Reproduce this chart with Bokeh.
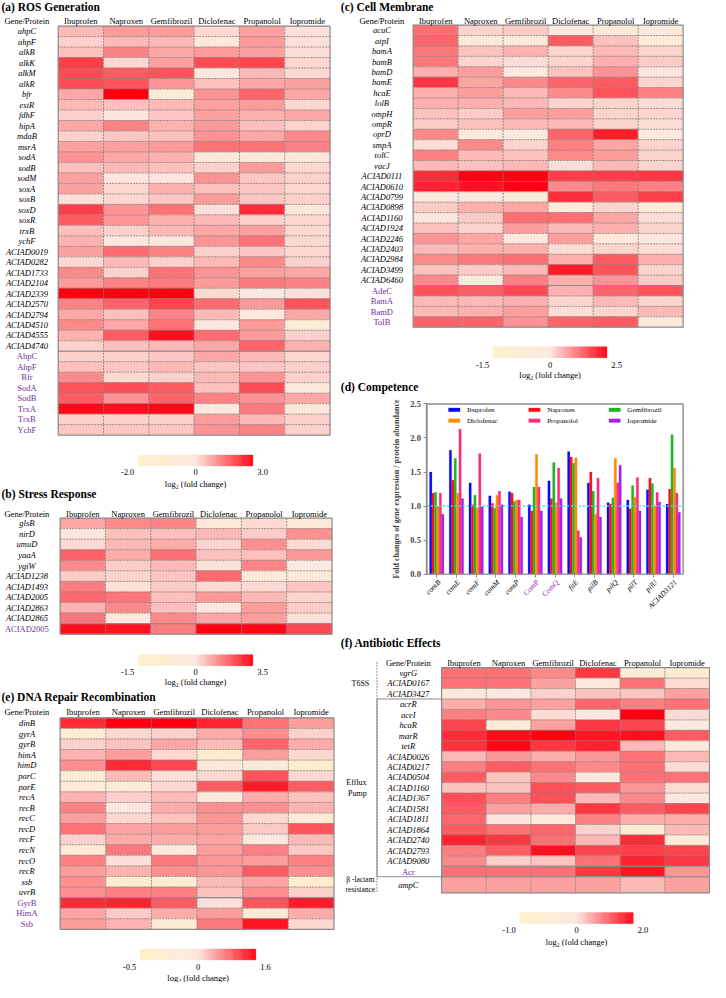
import numpy as np
from bokeh.plotting import figure
from bokeh.models import (Range1d, LinearAxis, FixedTicker, ColumnDataSource,
                          LinearColorMapper, PrintfTickFormatter)
from bokeh.core.properties import value
from bokeh.embed import file_html
from bokeh.resources import INLINE

# ---------------------------------------------------------------- data
drugs = ["Ibuprofen", "Naproxen", "Gemfibrozil", "Diclofenac", "Propanolol", "Iopromide"]

# (a) ROS generation, log2 fold change, columns = drugs
ros_genes = ["ahpC", "ahpF", "alkB", "alkK", "alkM", "alkR", "bfr", "estR", "fdhF", "hipA",
             "mdaB", "msrA", "sodA", "sodB", "sodM", "soxA", "soxB", "soxD", "soxR", "trxB",
             "ychF", "ACIAD0019", "ACIAD0282", "ACIAD1733", "ACIAD2104", "ACIAD2339",
             "ACIAD2570", "ACIAD2794", "ACIAD4510", "ACIAD4555", "ACIAD4740"]
ros_proteins = ["AhpC", "AhpF", "Bfr", "SodA", "SodB", "TrxA", "TrxB", "YchF"]
ros_values = [
    [0.6, 1.0, 1.0, 0.2, 0.9, 0.1], [0.3, 0.6, 0.6, -0.2, 1.0, 0.1],
    [0.5, 1.3, 0.8, 1.0, 0.9, 0.1], [2.2, 0.2, 0.9, 2.0, 2.1, 0.2],
    [2.0, 1.8, 1.9, -0.1, 0.6, 0.2], [2.0, 1.9, 1.1, 0.5, 0.8, 0.9],
    [0.8, 3.0, -0.8, 1.1, 1.7, 0.8], [0.6, 0.5, 0.6, 0.9, 1.0, 0.2],
    [0.3, 0.0, 0.4, 0.9, 0.7, 0.8], [0.8, 1.3, 0.7, 1.0, 0.5, 0.3],
    [0.3, 0.4, 0.5, 1.1, 0.8, 1.2], [0.9, 0.9, 1.0, 1.5, 1.5, 1.3],
    [1.1, 0.8, 0.7, -0.3, -0.3, -0.3], [0.5, 0.6, 0.5, 0.3, 1.0, 0.2],
    [0.9, 0.0, 0.0, 1.1, 0.4, 0.3], [0.9, 0.2, 0.7, 0.5, 0.4, 0.2],
    [0.1, 0.2, 0.4, 1.0, 0.4, 0.3], [2.2, 1.1, 1.5, 0.1, 2.4, -0.3],
    [1.8, 1.1, 0.7, 0.6, 0.3, 0.2], [0.5, 0.3, 0.6, 0.8, 0.9, 0.2],
    [0.7, 0.0, 0.0, 1.1, 1.5, 0.2], [0.9, 1.6, 1.3, 0.3, 0.4, 0.2],
    [0.2, 0.6, 0.3, 0.6, 1.2, 0.3], [1.2, 0.3, 1.5, 1.1, 0.9, 0.8],
    [1.0, 1.3, 1.4, 1.0, 1.4, 1.3], [3.0, 3.0, 3.0, 0.2, -0.1, 0.1],
    [1.3, 1.7, 2.1, 1.6, 1.0, 1.9], [0.8, 0.5, 1.3, 0.6, -0.2, 0.8],
    [1.2, 0.8, 1.5, 0.0, 1.0, -0.9], [0.7, 1.8, 2.8, 1.6, 1.0, 0.3],
    [0.3, 0.5, 0.6, 0.8, 1.7, 0.7],
    [0.3, 0.3, 0.4, 0.8, 0.6, 0.2], [0.5, 0.4, 0.6, 0.4, 0.4, 0.3],
    [1.2, 0.2, 0.3, 0.6, 1.1, 0.3], [1.9, 2.0, 1.8, 0.5, 2.0, -0.4],
    [1.8, 1.1, 1.7, 1.3, 1.1, 0.8], [2.9, 2.8, 2.9, -0.2, 1.4, -0.3],
    [0.3, 0.3, 0.3, 1.0, 0.6, 0.3], [0.4, 0.4, 0.4, 1.1, 1.3, 0.3]]
ros_scale = (-2.0, 3.0)

# (b) stress response
stress_genes = ["glsB", "nirD", "umuD", "yaaA", "ygiW", "ACIAD1238", "ACIAD1493",
                "ACIAD2005", "ACIAD2863", "ACIAD2865"]
stress_proteins = ["ACIAD2005"]
stress_values = [
    [1.0, 1.4, 1.5, -0.4, 0.2, -0.4], [0.0, 0.6, 0.6, 0.7, 0.4, 1.3],
    [0.2, 0.7, 0.9, 0.3, 1.3, 0.2], [2.0, 0.9, 1.8, 0.6, 0.6, 1.2],
    [1.4, 0.4, 0.7, 0.1, 1.5, -0.2], [0.4, 0.3, 0.5, 1.9, -0.3, -0.4],
    [1.6, 0.1, 0.4, 0.2, 0.2, 0.5], [1.9, 1.7, 0.6, 1.2, 0.7, 0.3],
    [0.8, 1.4, 0.6, 0.0, 1.1, 0.4], [1.7, 0.0, 1.4, 1.0, 1.1, 0.1],
    [3.3, 3.2, 1.6, 3.5, 3.4, 2.4]]
stress_scale = (-1.5, 3.5)

# (c) cell membrane
memb_genes = ["acuC", "atpI", "bamA", "bamB", "bamD", "bamE", "hcaE", "lolB", "ompH", "ompR",
              "oprD", "smpA", "tolC", "vacJ", "ACIAD0111", "ACIAD0610", "ACIAD0799",
              "ACIAD0898", "ACIAD1160", "ACIAD1924", "ACIAD2246", "ACIAD2403", "ACIAD2984",
              "ACIAD3499", "ACIAD6460"]
memb_proteins = ["AdeC", "BamA", "BamD", "TolB"]
memb_values = [
    [1.3, 0.2, 0.3, -0.2, -0.4, -0.1], [1.4, -0.3, -0.3, 1.5, 0.4, -0.5],
    [1.2, 0.4, 0.6, 0.2, 0.5, 0.2], [1.2, 0.2, 0.1, 0.2, 0.6, 0.3],
    [0.6, 0.8, -0.1, 0.4, 0.9, 0.0], [1.9, 0.7, 1.0, 1.4, 1.5, 0.2],
    [0.6, 0.8, 0.5, 1.0, 1.6, 1.1], [0.6, 0.6, 0.5, 0.2, 0.2, 0.1],
    [0.4, 0.3, 0.8, 0.8, 0.2, 0.2], [0.3, 0.4, 0.5, 0.5, 0.2, 0.1],
    [1.0, -0.4, -0.1, 1.4, 2.2, -0.2], [0.1, 1.0, 0.2, 1.1, 0.7, 0.2],
    [1.1, 0.5, 0.4, 1.0, 0.8, 0.2], [0.5, 0.4, 0.5, 0.1, 0.5, 0.2],
    [2.0, 2.5, 2.5, 1.8, 1.8, 1.9], [2.1, 2.3, 2.5, 1.0, 1.2, 1.1],
    [-0.2, -0.1, -0.4, 2.0, 1.5, 1.8], [0.3, 0.6, 0.7, -0.5, 0.2, -0.5],
    [0.0, 0.3, 1.3, 1.3, 0.7, 0.1], [0.4, 0.2, 0.8, 0.5, 0.6, 0.2],
    [0.9, 0.7, -0.1, 0.8, -0.4, 0.0], [0.5, 0.6, 0.6, 0.1, 0.2, 0.1],
    [1.0, 1.2, 1.3, 0.6, 1.5, 0.6], [0.4, 0.3, 0.5, 2.2, 1.6, 0.2],
    [1.0, -0.2, 1.1, 0.6, 0.9, 0.3],
    [1.6, 1.5, 1.7, 0.6, 1.4, 1.6], [0.5, 0.5, 0.6, 0.2, 0.5, 0.2],
    [0.5, 0.6, 0.8, 0.1, 0.2, 0.5], [1.4, 1.4, 0.9, 1.4, 1.5, -0.2]]
memb_scale = (-1.5, 2.5)

# (d) competence: fold change (bars)
comp_genes = ["comB", "comE", "comF", "comM", "comP", "ComP", "ComQ", "fitE", "pilB",
              "pilQ", "pilT", "pilU", "ACIAD3121"]
comp_proteins = ["ComP", "ComQ"]
comp_ibuprofen = [1.50, 1.82, 1.34, 1.15, 1.21, 1.02, 1.37, 1.80, 1.34, 1.05, 1.09, 1.24, 1.03]
comp_naproxen = [1.19, 1.38, 1.02, 1.04, 1.19, 0.93, 1.11, 1.72, 1.50, 1.03, 0.96, 1.41, 1.25]
comp_gemfibrozil = [1.20, 1.70, 1.16, 0.97, 1.07, 1.28, 1.64, 1.63, 1.22, 1.12, 1.30, 1.33, 2.05]
comp_diclofenac = [1.00, 1.19, 0.97, 1.16, 1.09, 1.76, 1.05, 1.71, 0.88, 1.70, 1.13, 1.00, 1.56]
comp_propanolol = [1.19, 2.13, 1.77, 1.22, 1.09, 1.28, 1.56, 0.64, 1.41, 1.34, 1.42, 1.20, 1.19]
comp_iopromide = [0.88, 1.11, 0.99, 1.02, 0.84, 0.93, 1.11, 0.54, 0.84, 1.60, 0.93, 1.06, 0.91]
comp_ticks = [0.0, 0.5, 1.0, 1.5, 2.0, 2.5]

# (e) DNA repair recombination
dna_genes = ["dinB", "gyrA", "gyrB", "himA", "himD", "parC", "parE", "recA", "recB", "recC",
             "recD", "recF", "recN", "recO", "recR", "ssb", "uvrB"]
dna_proteins = ["GyrB", "HimA", "Ssb"]
dna_values = [
    [1.3, 1.6, 1.6, 1.35, 0.8, 0.5], [-0.25, 0.1, 0.15, 0.4, 0.6, 0.15],
    [0.15, 0.25, 0.45, 0.3, 0.9, 0.4], [0.35, 0.5, 0.1, -0.35, 0.5, 0.1],
    [0.6, 1.3, 1.1, -0.1, -0.1, -0.35], [-0.2, 0.3, 0.05, 0.1, 1.0, 0.1],
    [-0.2, -0.2, 0.1, 0.95, 1.4, 0.95], [0.35, 0.15, 0.3, -0.05, 0.4, 0.25],
    [0.7, 0.0, 0.4, 0.6, 0.6, 0.35], [0.5, 0.1, 0.25, 0.55, 0.1, -0.2],
    [0.8, 0.45, 0.5, 0.5, 0.2, 1.0], [0.15, 0.4, 0.4, 0.45, -0.05, 0.3],
    [-0.2, 0.75, -0.1, 0.5, 0.7, 0.2], [0.7, 0.05, 0.75, 0.55, 0.5, 0.7],
    [0.5, 0.35, 0.6, 0.55, 0.95, 0.6], [0.6, -0.3, -0.2, 0.3, 0.45, -0.35],
    [0.6, 0.7, 0.7, 0.25, 0.6, 0.15],
    [1.3, 1.35, 0.95, 0.05, 1.0, 1.4], [0.45, 0.2, 0.4, 0.5, -0.2, 0.4],
    [0.5, 0.35, -0.2, 0.75, 1.45, 0.1]]
dna_scale = (-0.5, 1.6)

# (f) antibiotic effects
abx_genes = ["vgrG", "ACIAD0167", "ACIAD3427", "acrR", "aceI", "hcaR", "marR", "tetR",
             "ACIAD0026", "ACIAD0217", "ACIAD0504", "ACIAD1160", "ACIAD1367", "ACIAD1581",
             "ACIAD1811", "ACIAD1864", "ACIAD2740", "ACIAD2793", "ACIAD9080"]
abx_proteins = ["Acr"]
abx_extra = ["ampC"]
abx_groups = ["T6SS", "Efflux\nPump", "\u03b2 -lactam\nresistance"]
abx_values = [
    [1.0, 1.0, 0.8, 1.5, -0.5, -0.5], [1.0, 1.0, 0.6, -0.1, 1.0, 0.1],
    [-0.2, -0.1, 0.2, 0.3, 0.3, 0.6], [0.5, 0.7, 0.6, 1.1, 0.9, 1.0],
    [0.9, 0.8, 0.1, 0.0, 2.0, 0.1], [1.4, -0.4, 0.6, 1.5, 1.4, -0.1],
    [1.6, 1.9, 2.0, 1.8, 1.85, 1.2], [1.55, 1.95, 1.5, 1.7, 0.4, -0.2],
    [0.4, 0.7, 0.5, 0.7, 1.0, 0.4], [0.9, 1.2, 1.0, 0.8, 1.0, 0.1],
    [1.2, 0.3, 0.8, 0.0, 1.0, 1.0], [0.3, 0.3, 1.3, 1.2, 0.7, 0.1],
    [1.3, 0.9, 1.3, 0.4, 0.8, -0.1], [1.2, 0.6, 0.5, 1.5, 1.2, 1.4],
    [1.1, 0.0, -0.2, 0.9, 0.5, 0.5], [1.2, 1.0, 1.1, 0.2, -0.5, 0.4],
    [1.7, 1.5, 1.0, 0.4, 1.6, -0.3], [0.9, 1.2, 1.85, 1.4, 1.45, 1.4],
    [0.8, 0.2, 0.3, 1.0, 1.7, 1.5],
    [1.0, 1.0, 1.0, 1.5, 1.8, 0.7],
    [0.6, 0.6, 0.6, 0.6, 0.4, 0.6]]
abx_scale = (-1.0, 2.0)

# ---------------------------------------------------------------- style
REF_W, REF_H = 726, 998
FONT_NAME = "Liberation Serif"
FONT = value(FONT_NAME)
PURPLE = "#7030A0"
GRIDC = "#7d7d7d"
BORDER = "#8c8c8c"
BAR_COLORS = ["#0a0aff", "#ff1010", "#22b422", "#ff8a00", "#ff2a7f", "#a424ee"]

LOW, MID, HIGH = (255, 240, 198), (252, 231, 223), (255, 0, 16)


def _lerp(c0, c1, f):
    return tuple(int(round(a + (b - a) * f)) for a, b in zip(c0, c1))


PALETTE = []
for i in range(256):
    t = i / 255
    c = _lerp(LOW, MID, t / 0.5) if t < 0.5 else _lerp(MID, HIGH, (t - 0.5) / 0.5)
    PALETTE.append("#%02x%02x%02x" % c)
CMAP = LinearColorMapper(palette=PALETTE, low=0, high=1)
FILL = {"field": "t", "transform": CMAP}


def tnorm(v, lo, hi):
    if v < 0:
        return max(0.0, 0.5 * (v - lo) / (0 - lo))
    return min(1.0, 0.5 + 0.5 * v / hi)


p = figure(width=710, height=982, x_range=Range1d(0, REF_W), y_range=Range1d(REF_H, 0),
           x_axis_type=None, y_axis_type=None, toolbar_location=None,
           output_backend="svg", min_border=0, outline_line_color=None)
p.background_fill_color = "white"
p.border_fill_color = "white"


def txt(xs, ys, texts, size="8.5px", style="normal", color="black", align="center",
        baseline="middle", angle=0.0, xr="default", yr="default"):
    p.text(x=list(xs), y=list(ys), text=list(texts), text_font=FONT,
           text_font_size=size, text_font_style=style, text_color=color,
           text_align=align, text_baseline=baseline, angle=angle,
           x_range_name=xr, y_range_name=yr)


def colorbar(x0, x1, y0, y1, lo_lab, hi_lab, lab_y, title_y):
    n = 128
    e = np.linspace(x0, x1, n + 1)
    src = ColumnDataSource(dict(l=e[:-1], r=e[1:], t=(np.arange(n) + 0.5) / n))
    p.quad(left="l", right="r", top=y0, bottom=y1, source=src,
           fill_color=FILL, line_color=FILL, line_width=0.4)
    txt([x0 - 11, (x0 + x1) / 2, x1 + 10], [lab_y] * 3, [lo_lab, "0", hi_lab])
    txt([(x0 + x1) / 2], [title_y], ["log\u2082 (fold change)"])


def heatmap(key, genes, proteins, values, scale, box, label_x, header_y,
            title, title_xy, extra=(), extra_h=1.0, solid_rows=()):
    x0, x1, y0, y1 = box
    names = list(genes) + list(proteins) + list(extra)
    n = len(names)
    heights = [1.0] * (len(genes) + len(proteins)) + [extra_h] * len(extra)
    edges = np.concatenate([[0.0], np.cumsum(heights)])
    total = edges[-1]
    kx, ky = key + "x", key + "y"
    ux, uy = (x1 - x0) / 6.0, (y1 - y0) / total
    p.extra_x_ranges[kx] = Range1d(start=-x0 / ux, end=(REF_W - x0) / ux)
    p.extra_y_ranges[ky] = Range1d(start=(REF_H - y0) / uy, end=-y0 / uy)
    centers = (edges[:-1] + edges[1:]) / 2
    xs, ys, hs, ts = [], [], [], []
    lo, hi = scale
    for r in range(n):
        for c in range(6):
            xs.append(c + 0.5)
            ys.append(centers[r])
            hs.append(heights[r])
            ts.append(tnorm(values[r][c], lo, hi))
    src = ColumnDataSource(dict(x=xs, y=ys, h=hs, t=ts))
    p.rect(x="x", y="y", width=1, height="h", source=src, x_range_name=kx, y_range_name=ky,
           fill_color=FILL, line_color=FILL, line_width=0.4)
    # dashed cell borders
    p.segment(x0=[1, 2, 3, 4, 5], y0=[0] * 5, x1=[1, 2, 3, 4, 5], y1=[total] * 5,
              line_color=GRIDC, line_width=0.8, line_dash="2 1", x_range_name=kx, y_range_name=ky)
    inner = list(edges[1:-1])
    p.segment(x0=[0] * len(inner), y0=inner, x1=[6] * len(inner), y1=inner,
              line_color=GRIDC, line_width=0.8, line_dash="2 1", x_range_name=kx, y_range_name=ky)
    sol = [len(genes)] + list(solid_rows)
    if proteins and extra:
        sol.append(len(genes) + len(proteins))
    p.segment(x0=[0] * len(sol), y0=sol, x1=[6] * len(sol), y1=sol,
              line_color=BORDER, line_width=1.1, x_range_name=kx, y_range_name=ky)
    p.quad(left=[0], right=[6], top=[0], bottom=[total], fill_color=None,
           line_color=BORDER, line_width=1.2, x_range_name=kx, y_range_name=ky)
    # labels
    ng = len(genes)
    txt([label_x] * ng, centers[:ng], genes, style="italic", yr=ky)
    npr = len(proteins)
    if npr:
        txt([label_x] * npr, centers[ng:ng + npr], proteins, color=PURPLE, yr=ky)
    if extra:
        txt([label_x] * len(extra), centers[ng + npr:], extra, style="italic", yr=ky)
    txt([c + 0.5 for c in range(6)], [header_y] * 6, drugs, xr=kx)
    txt([label_x], [header_y], ["Gene/Protein"])
    txt([title_xy[0]], [title_xy[1]], [title], size="11.5px", style="bold", align="left")
    return kx, ky, edges


# ---------------------------------------------------------------- panels
heatmap("a", ros_genes, ros_proteins, ros_values, ros_scale, (59, 337, 26, 441.7),
        27, 21, "(a) ROS Generation", (1, 7))
colorbar(141, 258, 462, 473, "-2.0", "3.0", 479, 491)

heatmap("b", stress_genes, stress_proteins, stress_values, stress_scale, (61, 339, 526, 644),
        27, 522, "(b) Stress Response", (1, 502))
colorbar(141, 258, 665, 676, "-1.5", "3.5", 682, 693)

heatmap("e", dna_genes, dna_proteins, dna_values, dna_scale, (61, 341, 729, 944),
        27, 723, "(e) DNA Repair Recombination", (1, 708))
colorbar(143, 261, 964, 975, "-0.5", "1.6", 982, 993)

heatmap("c", memb_genes, memb_proteins, memb_values, memb_scale, (422, 698, 25, 332),
        390, 21, "(c) Cell Membrane", (348, 7))
colorbar(504, 620, 352, 363, "-1.5", "2.5", 370, 381)

fkx, fky, fedges = heatmap("f", abx_genes, abx_proteins, abx_values, abx_scale,
                           (451, 725, 678, 907), 417, 673, "(f) Antibiotic Effects",
                           (348, 653), extra=abx_extra, extra_h=1.55)
colorbar(531, 647, 927, 938, "-1.0", "2.0", 945, 957)
# group column of (f)
ftot = fedges[-1]
p.segment(x0=[385], y0=[-0.55], x1=[385], y1=[ftot], line_color=GRIDC, line_width=0.9,
          line_dash="2 1", y_range_name=fky)
p.quad(left=[385], right=[451], top=[3], bottom=[20], fill_color=None, line_color=BORDER,
       line_width=1.1, y_range_name=fky)
g_lines = [g.split("\n") for g in abx_groups]
txt([368], [1.5], [g_lines[0][0]], size="8px", yr=fky)
txt([364, 365], [11.0, 12.0], g_lines[1], size="8px", yr=fky)
txt([368, 368], [20.3, 21.25], g_lines[2], size="7.5px", yr=fky)

# ---------------------------------------------------------------- (d) bars
txt([348], [393], ["(d) Competence"], size="11.5px", style="bold", align="left")
DX0, DX1, DY0, DY1 = 436, 698, 583, 410
ng = len(comp_genes)
ux = (DX1 - DX0) / ng
uy = (DY0 - DY1) / comp_ticks[-1]
p.extra_x_ranges["dx"] = Range1d(start=-DX0 / ux, end=(REF_W - DX0) / ux)
p.extra_y_ranges["dy"] = Range1d(start=(DY0 - REF_H) / uy, end=DY0 / uy)

series = [comp_ibuprofen, comp_naproxen, comp_gemfibrozil, comp_diclofenac,
          comp_propanolol, comp_iopromide]
bw = 0.122
for k, (vals, col) in enumerate(zip(series, BAR_COLORS)):
    xs = [i + 0.5 + (k - 2.5) * bw for i in range(ng)]
    p.vbar(x=xs, width=bw, top=vals, bottom=0, fill_color=col, line_color=col,
           line_width=0.2, x_range_name="dx", y_range_name="dy")
p.segment(x0=[0], y0=[1.0], x1=[ng], y1=[1.0], line_color="#3fdcec", line_width=1.6,
          line_dash="2 2", x_range_name="dx", y_range_name="dy")
p.quad(left=[0], right=[ng], bottom=[0], top=[comp_ticks[-1]], fill_color=None,
       line_color=BORDER, line_width=1.4, x_range_name="dx", y_range_name="dy")

yax = LinearAxis(y_range_name="dy", fixed_location=DX0, bounds=(0, comp_ticks[-1]),
                 ticker=FixedTicker(ticks=comp_ticks, minor_ticks=[]),
                 formatter=PrintfTickFormatter(format="%.1f"),
                 axis_label="Fold changes of gene expression / protein abundance")
yax.axis_line_color = BORDER
yax.axis_line_width = 1.4
yax.major_tick_line_color = BORDER
yax.major_tick_out = 3
yax.major_tick_in = 0
yax.minor_tick_out = 0
yax.minor_tick_in = 0
yax.major_label_text_font = FONT_NAME
yax.major_label_text_font_style = "bold"
yax.major_label_text_font_size = "8.5px"
yax.major_label_standoff = 3
yax.axis_label_text_font = FONT_NAME
yax.axis_label_text_font_style = "bold"
yax.axis_label_text_font_size = "8px"
yax.axis_label_standoff = 6
p.add_layout(yax, "left")

xax = LinearAxis(x_range_name="dx", y_range_name="dy", fixed_location=0, bounds=(0, ng),
                 ticker=FixedTicker(ticks=[i + 0.5 for i in range(ng)], minor_ticks=[]))
xax.axis_line_color = None
xax.major_tick_line_color = BORDER
xax.major_tick_out = 3
xax.major_tick_in = 0
xax.minor_tick_out = 0
xax.major_label_text_color = None
p.add_layout(xax, "below")

gene_idx = [i for i, g in enumerate(comp_genes) if g not in comp_proteins]
prot_idx = [i for i, g in enumerate(comp_genes) if g in comp_proteins]
txt([i + 0.62 for i in gene_idx], [590] * len(gene_idx), [comp_genes[i] for i in gene_idx],
    size="7.5px", style="italic", align="right", angle=np.pi / 4, xr="dx")
txt([i + 0.62 for i in prot_idx], [590] * len(prot_idx), [comp_genes[i] for i in prot_idx],
    size="7.5px", color="#9a2ab8", align="right", angle=np.pi / 4, xr="dx")

# legend
leg_x = [458, 540, 622]
leg_y = [416, 427]
for k, (name, col) in enumerate(zip(drugs, BAR_COLORS)):
    cx, ry = leg_x[k % 3], leg_y[k // 3]
    p.quad(left=[cx], right=[cx + 12], top=[ry - 2], bottom=[ry + 2], fill_color=col,
           line_color=None)
    txt([cx + 19], [ry], [name], size="7px", align="left")

open("out.html", "w").write(file_html(p, INLINE))
